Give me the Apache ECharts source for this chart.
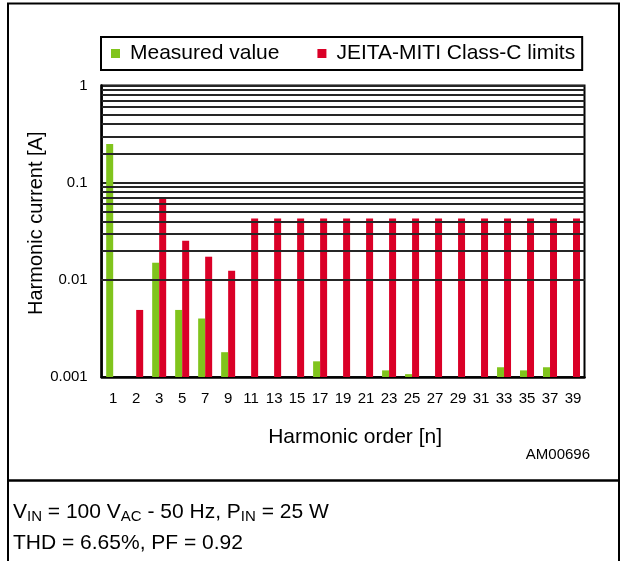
<!DOCTYPE html>
<html><head><meta charset="utf-8">
<script src="https://cdn.jsdelivr.net/npm/echarts@6/dist/echarts.min.js"></script>
<style>html,body{margin:0;padding:0;background:#fff}#c{width:623px;height:561px}</style>
</head><body><div id="c"></div>
<script>
const categories = ['1','2','3','5','7','9','11','13','15','17','19','21','23','25','27','29','31','33','35','37','39'];
const measuredValues = [0.25, null, 0.015, 0.0049, 0.0040, 0.0018, null, null, null, 0.00145, null, null, 0.00117, 0.00107, null, null, null, 0.00126, 0.00117, 0.00126, null];
const limitValues = [null, 0.0049, 0.069, 0.0253, 0.0173, 0.0124, 0.0428, 0.0428, 0.0428, 0.0428, 0.0428, 0.0428, 0.0428, 0.0428, 0.0428, 0.0428, 0.0428, 0.0428, 0.0428, 0.0428, 0.0428];
const minorGridValues = [0.002,0.003,0.004,0.005,0.006,0.007,0.008,0.009,0.02,0.03,0.04,0.05,0.06,0.07,0.08,0.09,0.2,0.3,0.4,0.5,0.6,0.7,0.8,0.9];
const seriesNames = ['Measured value', 'JEITA-MITI Class-C limits'];

const FONT = '"Liberation Sans", Arial, Helvetica, sans-serif';
const GREEN = '#80c41c';
const RED = '#da0027';
const gridLine = {color:'#262626', width:1.8, type:'solid'};

const chart = echarts.init(document.getElementById('c'), null, {renderer:'canvas'});
const option = {
  animation: false,
  backgroundColor: '#fff',
  textStyle: {fontFamily: FONT},
  grid: {left: 101.7, right: 38.5, top: 85.5, bottom: 184, show: true, borderColor: '#000', borderWidth: 2, backgroundColor: 'transparent'},
  legend: {
    left: 101, top: 37, orient: 'horizontal', icon: 'rect', itemWidth: 9, itemHeight: 9, itemGap: 38,
    padding: [6, 7, 6, 10], borderColor: '#000', borderWidth: 2, backgroundColor: '#fff',
    textStyle: {fontSize: 21, color: '#000', fontFamily: FONT, padding: [0, 0, 0, 5]},
    data: seriesNames, selectedMode: false
  },
  xAxis: {
    type: 'category', data: categories,
    axisLine: {lineStyle: {color: '#000', width: 2.5}},
    axisTick: {length: 5, lineStyle: {color: '#000', width: 1.5}},
    axisLabel: {color: '#000', fontSize: 15, margin: 14, interval: 0, fontFamily: FONT},
    splitLine: {show: false},
    name: 'Harmonic order [n]', nameLocation: 'middle', nameGap: 50, nameMoveOverlap: false,
    nameTextStyle: {fontSize: 21, color: '#000', fontFamily: FONT, padding: [0, 0, 0, 24]}
  },
  yAxis: {
    type: 'log', logBase: 10, min: 0.001, max: 1, startValue: 0.001,
    axisLine: {show: true, lineStyle: {color: '#000', width: 2.5}},
    axisTick: {show: false},
    axisLabel: {color: '#000', fontSize: 15, margin: 14, fontFamily: FONT, formatter: v => String(+Number(v).toPrecision(1))},
    splitLine: {show: true, lineStyle: gridLine},
    name: 'Harmonic current [A]', nameLocation: 'middle', nameGap: 55, nameMoveOverlap: false,
    nameTextStyle: {fontSize: 20, color: '#000', fontFamily: FONT, padding: [0, 0, 0, 16]}
  },
  series: [
    {type: 'line', data: [], z: 1, silent: true,
     markLine: {silent: true, symbol: 'none', label: {show: false}, lineStyle: gridLine,
       emphasis: {disabled: true}, data: minorGridValues.map(v => ({yAxis: v}))}},
    {name: seriesNames[0], type: 'bar', data: measuredValues, barWidth: 7, barGap: '0%', z: 3,
     itemStyle: {color: GREEN}},
    {name: seriesNames[1], type: 'bar', data: limitValues, barWidth: 7, barGap: '0%', z: 3,
     itemStyle: {color: RED}}
  ],
  graphic: [
    {type: 'rect', silent: true, z: 0, shape: {x: 8, y: 3.5, width: 611, height: 600}, style: {fill: 'none', stroke: '#000', lineWidth: 2}},
    {type: 'line', silent: true, shape: {x1: 8, y1: 480.5, x2: 619, y2: 480.5}, style: {stroke: '#000', lineWidth: 2.5}},
    {type: 'text', silent: true, x: 590, y: 455, style: {text: 'AM00696', fontSize: 15, fontFamily: FONT, fill: '#000', align: 'right', verticalAlign: 'middle', textAlign: 'right', textVerticalAlign: 'middle'}},
    {type: 'text', silent: true, x: 13, y: 512, style: {text: 'V{s|IN} = 100 V{s|AC} - 50 Hz, P{s|IN} = 25 W', fontSize: 21, fontFamily: FONT, fill: '#000', align: 'left', verticalAlign: 'middle', textAlign: 'left', textVerticalAlign: 'middle',
      rich: {s: {fontSize: 15, fontFamily: FONT, fill: '#000', padding: [10, 0, 0, 0]}}}},
    {type: 'text', silent: true, x: 13, y: 543, style: {text: 'THD = 6.65%, PF = 0.92', fontSize: 21, fontFamily: FONT, fill: '#000', align: 'left', verticalAlign: 'middle', textAlign: 'left', textVerticalAlign: 'middle'}}
  ]
};
chart.setOption(option);
</script>
</body></html>
